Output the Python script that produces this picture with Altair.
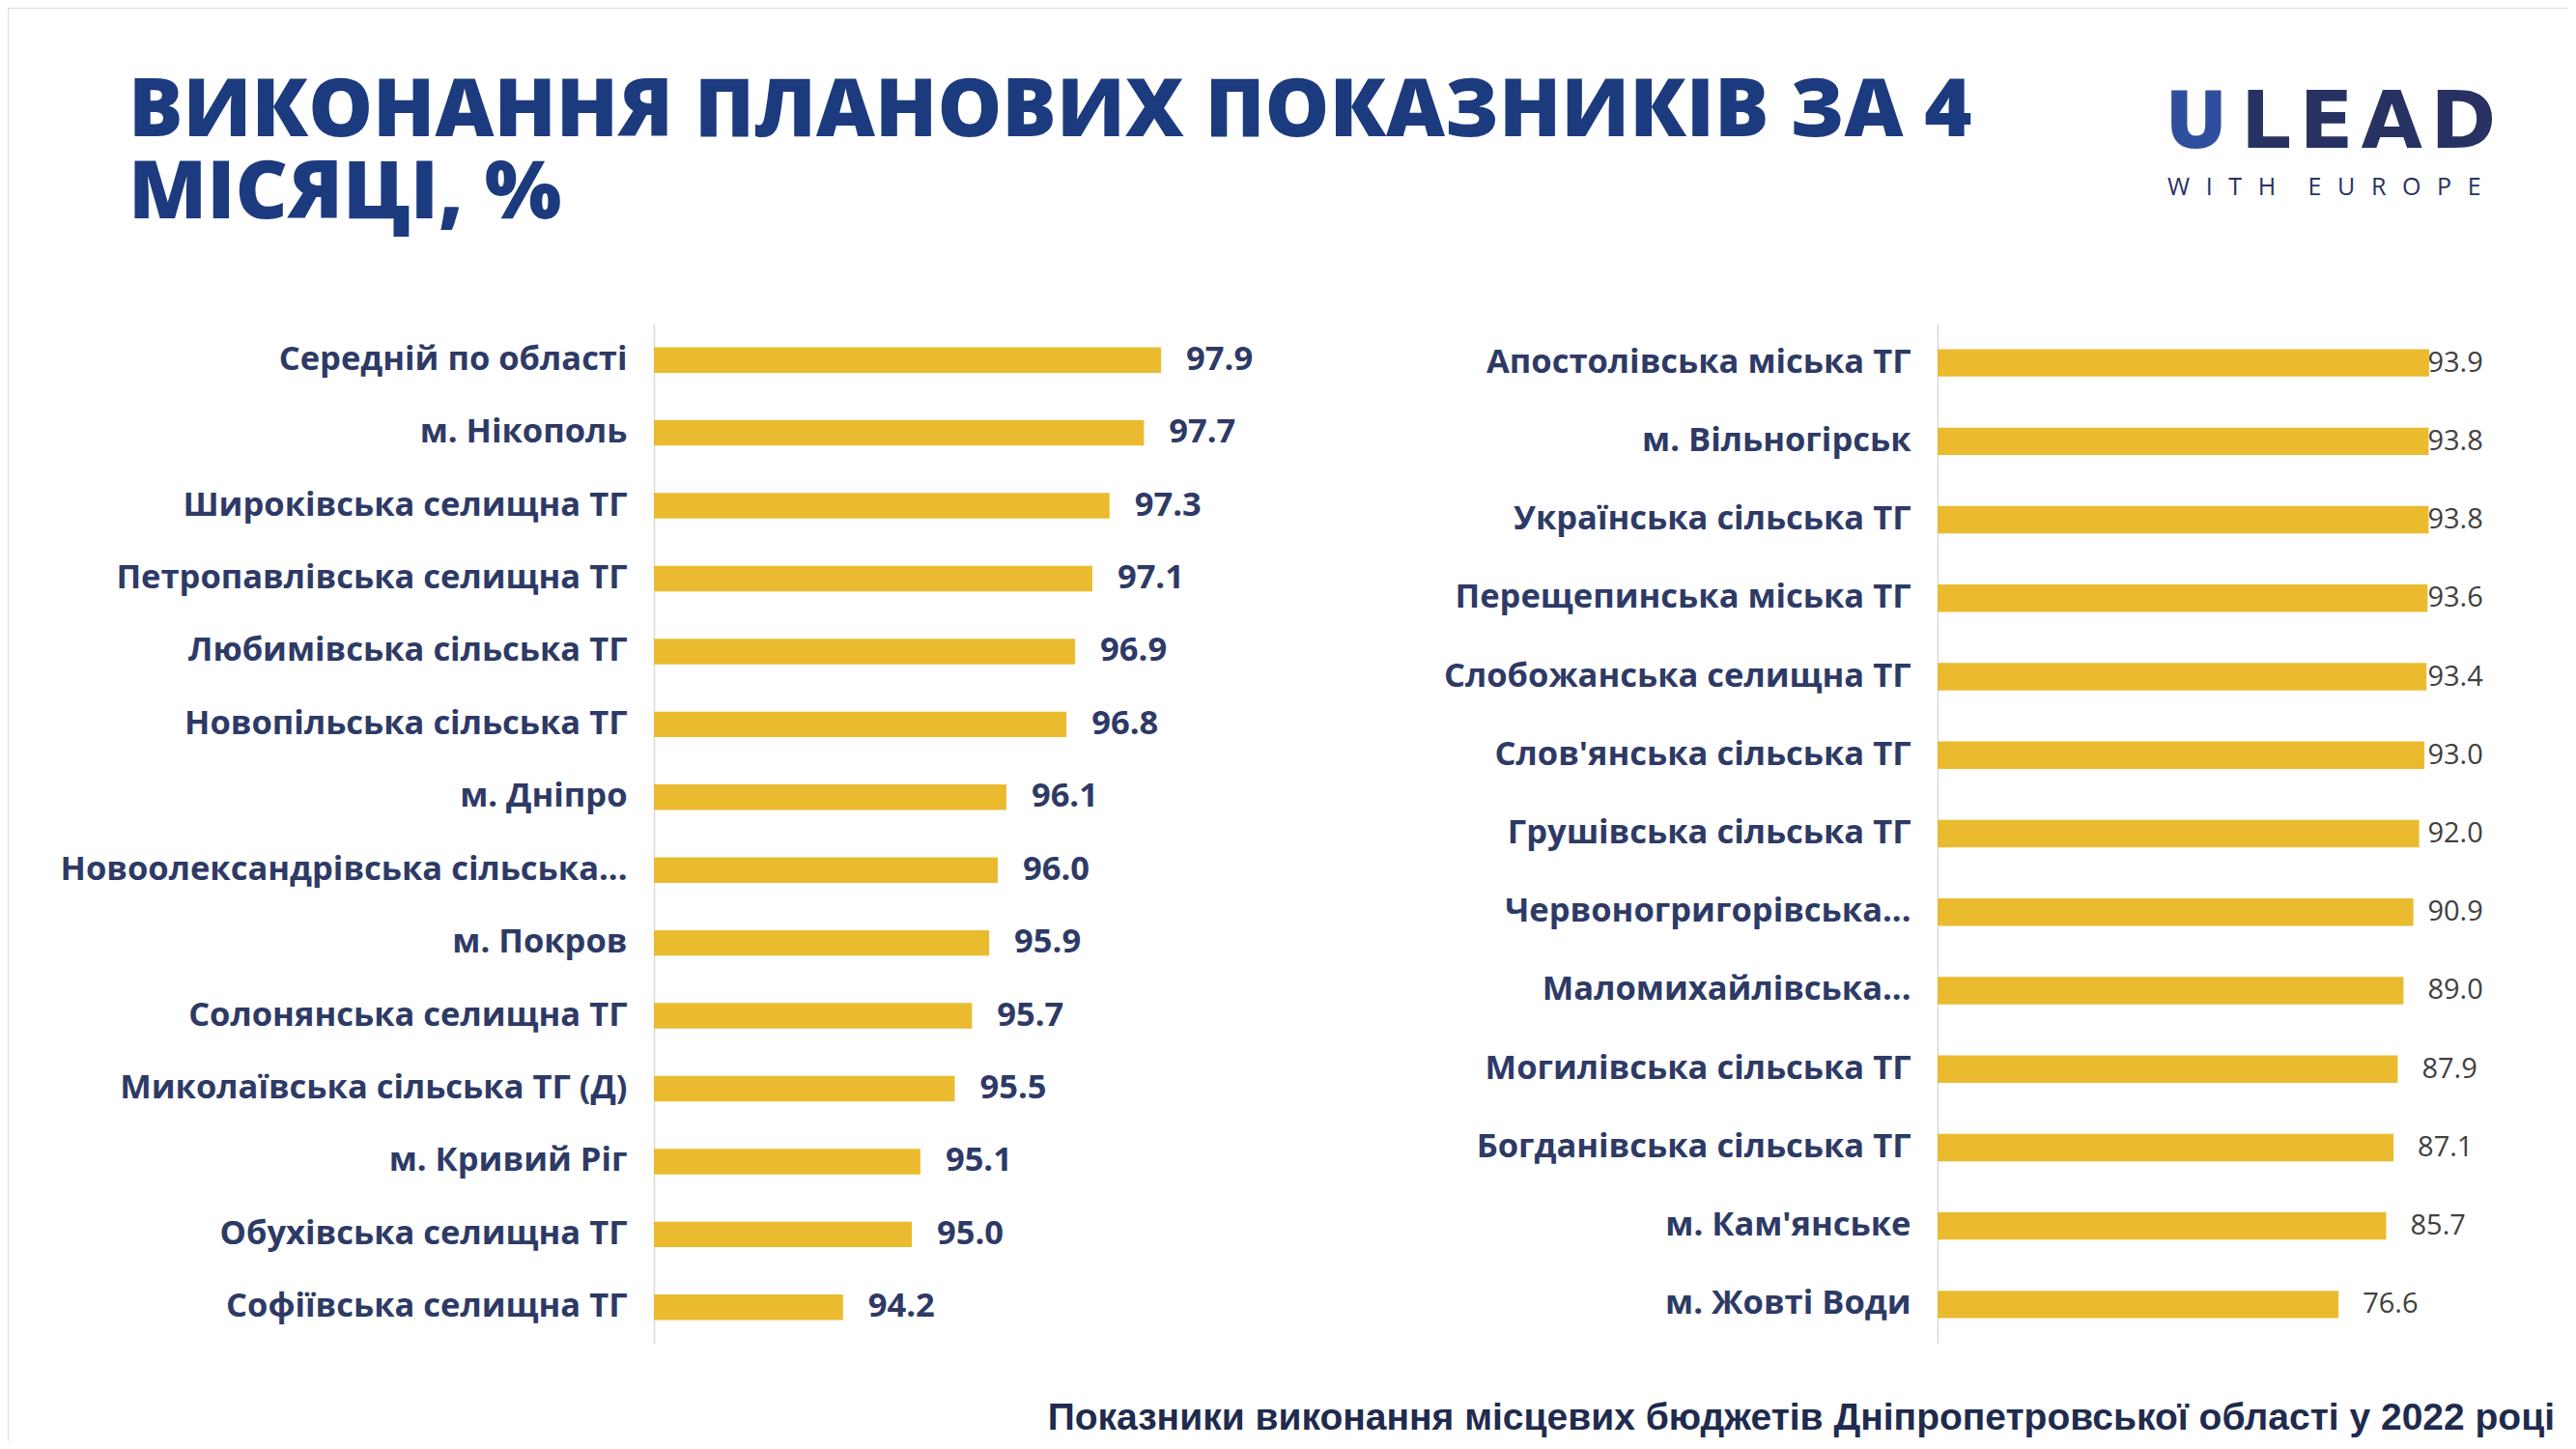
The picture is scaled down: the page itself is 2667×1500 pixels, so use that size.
import altair as alt
import pandas as pd

# ---------------- data ----------------
left_names = [
    "Середній по області", "м. Нікополь", "Широківська селищна ТГ",
    "Петропавлівська селищна ТГ", "Любимівська сільська ТГ",
    "Новопільська сільська ТГ", "м. Дніпро", "Новоолександрівська сільська...",
    "м. Покров", "Солонянська селищна ТГ", "Миколаївська сільська ТГ (Д)",
    "м. Кривий Ріг", "Обухівська селищна ТГ", "Софіївська селищна ТГ",
]
left_values = [97.9, 97.7, 97.3, 97.1, 96.9, 96.8, 96.1, 96.0, 95.9, 95.7, 95.5, 95.1, 95.0, 94.2]

right_names = [
    "Апостолівська міська ТГ", "м. Вільногірськ", "Українська сільська ТГ",
    "Перещепинська міська ТГ", "Слобожанська селищна ТГ", "Слов'янська сільська ТГ",
    "Грушівська сільська ТГ", "Червоногригорівська...", "Маломихайлівська...",
    "Могилівська сільська ТГ", "Богданівська сільська ТГ", "м. Кам'янське",
    "м. Жовті Води",
]
right_values = [93.9, 93.8, 93.8, 93.6, 93.4, 93.0, 92.0, 90.9, 89.0, 87.9, 87.1, 85.7, 76.6]

title_line1 = "ВИКОНАННЯ ПЛАНОВИХ ПОКАЗНИКІВ ЗА 4"
title_line2 = "МІСЯЦІ, %"
footer_text = "Показники виконання місцевих бюджетів Дніпропетровської області у 2022 році"
logo_main = "L\u200aE\u200aA\u200aD"
logo_u = "U"
logo_sub = "W\u2002\u2009I\u2002\u2009T\u2002\u2009H\u2002\u2009\u2002\u2009E\u2002\u2009U\u2002\u2009R\u2002\u2009O\u2002\u2009P\u2002\u2009E"

# ---------------- style ----------------
BAR = "#EBBB2F"
NAVY = "#2E3A66"
TITLE_NAVY = "#1C3A7E"
FONT = "Open Sans"
W, H = 2651, 1484
Y_RANGE = [327, 1383]

left_df = pd.DataFrame({"name": left_names, "v": left_values})
right_df = pd.DataFrame({"name": right_names, "v": right_values})


def yaxis(offset):
    return alt.Axis(
        orient="left", offset=offset, title=None, ticks=False, tickSize=0,
        grid=False, domain=True, domainColor="#D9D9D9", domainWidth=1.5,
        labelFont=FONT, labelFontWeight=700, labelFontSize=34.5, labelColor=NAVY,
        labelPadding=28, labelLimit=1200,
    )


LMIN = 92
lx = alt.Scale(domain=[LMIN, 100], range=[669, 1381], zero=False, nice=False)
ly = alt.Scale(range=Y_RANGE, paddingInner=0.65, paddingOuter=0.325)

left_base = alt.Chart(left_df)
left_bars = left_base.mark_bar(color=BAR).encode(
    y=alt.Y("name:N", sort=left_names, scale=ly, axis=yaxis(-669)),
    x=alt.X("v:Q", scale=lx, axis=None),
    x2=alt.datum(LMIN),
)
left_text = left_base.mark_text(
    align="left", baseline="middle", dx=26, font=FONT, fontWeight=700,
    fontSize=34.5, color=NAVY,
).encode(
    y=alt.Y("name:N", sort=left_names, scale=ly),
    x=alt.X("v:Q", scale=lx, axis=None),
    text=alt.Text("v:Q", format=".1f"),
)
left = alt.layer(left_bars, left_text)

rx = alt.Scale(domain=[0, 100], range=[1998, 2540], zero=False, nice=False)
ry = alt.Scale(range=Y_RANGE, paddingInner=0.65, paddingOuter=0.325)

right_base = alt.Chart(right_df)
right_bars = right_base.mark_bar(color=BAR).encode(
    y=alt.Y("name:N", sort=right_names, scale=ry, axis=yaxis(-1998)),
    x=alt.X("v:Q", scale=rx, axis=None),
    x2=alt.datum(0),
)
right_text = right_base.transform_calculate(lx="min(datum.v, 89.0)").mark_text(
    align="left", baseline="middle", dx=25, font=FONT, fontWeight=400,
    fontSize=29, color="#404040",
).encode(
    y=alt.Y("name:N", sort=right_names, scale=ry),
    x=alt.X("lx:Q", scale=rx, axis=None),
    text=alt.Text("v:Q", format=".1f"),
)
right = alt.layer(right_bars, right_text)

one = pd.DataFrame({"t": [0]})


def label(text, x, y, **kw):
    return alt.Chart(one).mark_text(baseline="alphabetic", **kw).encode(
        x=alt.value(x), y=alt.value(y), text=alt.value(text)
    )


title1 = label(title_line1, 125, 133, align="left", font=FONT, fontWeight=800,
               fontSize=84, color=TITLE_NAVY)
title2 = label(title_line2, 125, 218, align="left", font=FONT, fontWeight=800,
               fontSize=84, color=TITLE_NAVY)

logo1 = label(logo_u, 2234, 145, align="left", font=FONT, fontWeight=800,
              fontSize=84, color="#2F4E9E")
logo2 = label(logo_main, 2312, 145, align="left", font="DejaVu Sans", fontWeight=700,
              fontSize=82, color="#283262")
logo3 = label(logo_sub, 2236, 194, align="left", font=FONT, fontWeight=400,
              fontSize=25, color="#283262")

footer = label(footer_text, 2637, 1472, align="right", font="Liberation Sans",
               fontWeight=700, fontSize=39, color="#1F2B4E")

chart = alt.layer(left, right, title1, title2, logo1, logo2, logo3, footer).resolve_scale(
    x="independent", y="independent"
).resolve_axis(y="independent").properties(
    width=W, height=H, padding=0,
    autosize=alt.AutoSizeParams(type="none"),
).configure_view(
    stroke="transparent", strokeWidth=0, fill="white"
).configure_axis(domain=False, grid=False, ticks=False).configure(background="white")

chart.save("out.html", embed_options={"renderer": "svg", "actions": False})
